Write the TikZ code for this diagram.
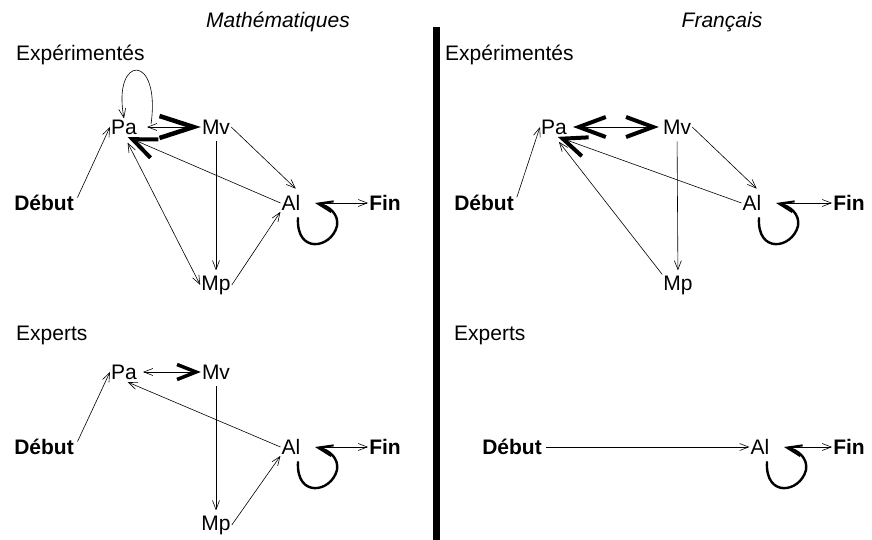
\documentclass[tikz,border=0pt]{standalone}
\usepackage{fontspec}
\setmainfont{Liberation Sans}
\usetikzlibrary{arrows.meta}
\tikzset{
	etat/.style={
		inner sep=1pt, font=\fontsize{21}{25}\selectfont
	},
	borne/.style={
		etat, font=\fontsize{21}{25}\selectfont\bfseries
	},
	groupe/.style={
		etat, anchor=west
	},
	titre/.style={
		etat, font=\fontsize{21}{25}\selectfont\itshape
	},
	lien/.style={
		line width=0.6pt, color=black
	},
	fine/.style={
		lien, -{Straight Barb[length=9pt, width=7pt]}
	},
	boucle/.style={
		line width=2.4pt, line cap=round,
		-{Straight Barb[length=15pt, width=11pt, line width=2pt]}
	},
	separation/.style={
		fill=black
	}
}

\begin{document}
\begin{tikzpicture}[x=1pt, y=1pt]
	\useasboundingbox (0,0) rectangle (872,-540);
	
	%% ═══════════════════════════════
	%%  TITRES + SEPARATION
	%% ═══════════════════════════════
	\node[titre] (tmath) at (278,-22) {Mathématiques};
	\node[titre] (tfr)   at (722,-22) {Français};
	\fill[separation] (433,-27) rectangle (440,-540);
	
	%% ═══════════════════════════════
	%%  MATHS — Expérimentés
	%% ═══════════════════════════════
	\node[groupe] (gexp1) at (15,-55) {Expérimentés};
	\node[etat]  (pa1)  at (124,-127) {Pa};
	\node[etat]  (mv1)  at (216,-127) {Mv};
	\node[etat]  (al1)  at (291,-203) {Al};
	\node[etat]  (mp1)  at (216,-285) {Mp};
	\node[borne] (deb1) at (44,-203)  {Début};
	\node[borne] (fin1) at (385,-203) {Fin};
	
	\draw[fine, shorten <=6pt] (deb1.east) -- (pa1.west);
	\draw[lien, {Straight Barb[length=9pt, width=7pt]}-{Straight Barb[length=34pt, width=22pt, line width=4.5pt]},
	shorten <=9pt] (pa1) -- (mv1);
	\draw[fine] (pa1.east) ++(13,3) .. controls +(10,72) and +(-12,64) .. (pa1.north);
	\draw[fine, shorten >=8pt] (mv1.east) -- (al1.north east);
	\draw[fine, shorten <=6pt, shorten >=4pt] (mv1) -- (mp1);
	\draw[lien, {Straight Barb[length=9pt, width=7pt]}-{Straight Barb[length=9pt, width=7pt]},
	shorten <=8pt] (pa1.south) -- (mp1.west);
	\draw[lien, -{Straight Barb[length=24pt, width=20pt, line width=4pt]},
	shorten >=4pt] (al1.west) -- (pa1.south);
	\draw[fine] (mp1.east) -- (al1.south west);
	\draw[boucle] ([shift={(7,-15)}]al1.center) .. controls +(-2,-36) and +(-6,-23) .. ([shift={(46,-23)}]al1.center)
	.. controls +(2,12) and +(14,-3) .. ([shift={(24,0)}]al1.center);
	\draw[fine, shorten <=16pt] (al1.east) -- (fin1.west);
	
	%% ═══════════════════════════════
	%%  FRANCAIS — Expérimentés
	%% ═══════════════════════════════
	\node[groupe] (gexp2) at (444,-55) {Expérimentés};
	\node[etat]  (pa2)  at (554,-127) {Pa};
	\node[etat]  (mv2)  at (677,-127) {Mv};
	\node[etat]  (al2)  at (752,-203) {Al};
	\node[etat]  (mp2)  at (678,-285) {Mp};
	\node[borne] (deb2) at (484,-203) {Début};
	\node[borne] (fin2) at (849,-203) {Fin};
	
	\draw[fine, shorten <=6pt] (deb2.east) -- (pa2.west);
	\draw[lien, {Straight Barb[length=27pt, width=20pt, line width=4pt]}-{Straight Barb[length=27pt, width=20pt, line width=4pt]},
	shorten <=5pt, shorten >=3pt] (pa2) -- (mv2);
	\draw[fine, shorten >=8pt] (mv2.east) -- (al2.north east);
	\draw[fine, shorten <=6pt, shorten >=4pt] (mv2) -- (mp2);
	\draw[fine, shorten >=8pt] (mp2.north west) -- (pa2.south);
	\draw[lien, -{Straight Barb[length=24pt, width=20pt, line width=4pt]},
	shorten >=4pt] (al2.west) -- (pa2.south);
	\draw[boucle] ([shift={(7,-15)}]al2.center) .. controls +(-2,-36) and +(-6,-23) .. ([shift={(46,-23)}]al2.center)
	.. controls +(2,12) and +(14,-3) .. ([shift={(24,0)}]al2.center);
	\draw[fine, shorten <=16pt] (al2.east) -- (fin2.west);
	
	%% ═══════════════════════════════
	%%  MATHS — Experts
	%% ═══════════════════════════════
	\node[groupe] (gexpt3) at (15,-335) {Experts};
	\node[etat]  (pa3)  at (124,-372) {Pa};
	\node[etat]  (mv3)  at (216,-372) {Mv};
	\node[etat]  (al3)  at (291,-447) {Al};
	\node[etat]  (mp3)  at (216,-525) {Mp};
	\node[borne] (deb3) at (44,-447)  {Début};
	\node[borne] (fin3) at (385,-447) {Fin};
	
	\draw[fine, shorten <=6pt] (deb3.east) -- (pa3.west);
	\draw[lien, {Straight Barb[length=9pt, width=7pt]}-{Straight Barb[length=19pt, width=15pt, line width=3.5pt]},
	shorten <=5pt] (pa3) -- (mv3);
	\draw[fine, shorten <=6pt, shorten >=4pt] (mv3) -- (mp3);
	\draw[fine, shorten >=4pt] (al3.west) -- (pa3.south);
	\draw[fine] (mp3.east) -- (al3.south west);
	\draw[boucle] ([shift={(7,-15)}]al3.center) .. controls +(-2,-36) and +(-6,-23) .. ([shift={(46,-23)}]al3.center)
	.. controls +(2,12) and +(14,-3) .. ([shift={(24,0)}]al3.center);
	\draw[fine, shorten <=16pt] (al3.east) -- (fin3.west);
	
	%% ═══════════════════════════════
	%%  FRANCAIS — Experts
	%% ═══════════════════════════════
	\node[groupe] (gexpt4) at (453,-335) {Experts};
	\node[etat]  (al4)  at (760,-447) {Al};
	\node[borne] (deb4) at (512,-447) {Début};
	\node[borne] (fin4) at (849,-447) {Fin};
	
	\draw[fine, shorten <=3pt] (deb4) -- (al4);
	\draw[boucle] ([shift={(7,-15)}]al4.center) .. controls +(-2,-36) and +(-6,-23) .. ([shift={(46,-23)}]al4.center)
	.. controls +(2,12) and +(14,-3) .. ([shift={(24,0)}]al4.center);
	\draw[fine, shorten <=16pt] (al4.east) -- (fin4.west);
	
\end{tikzpicture}
\end{document}
